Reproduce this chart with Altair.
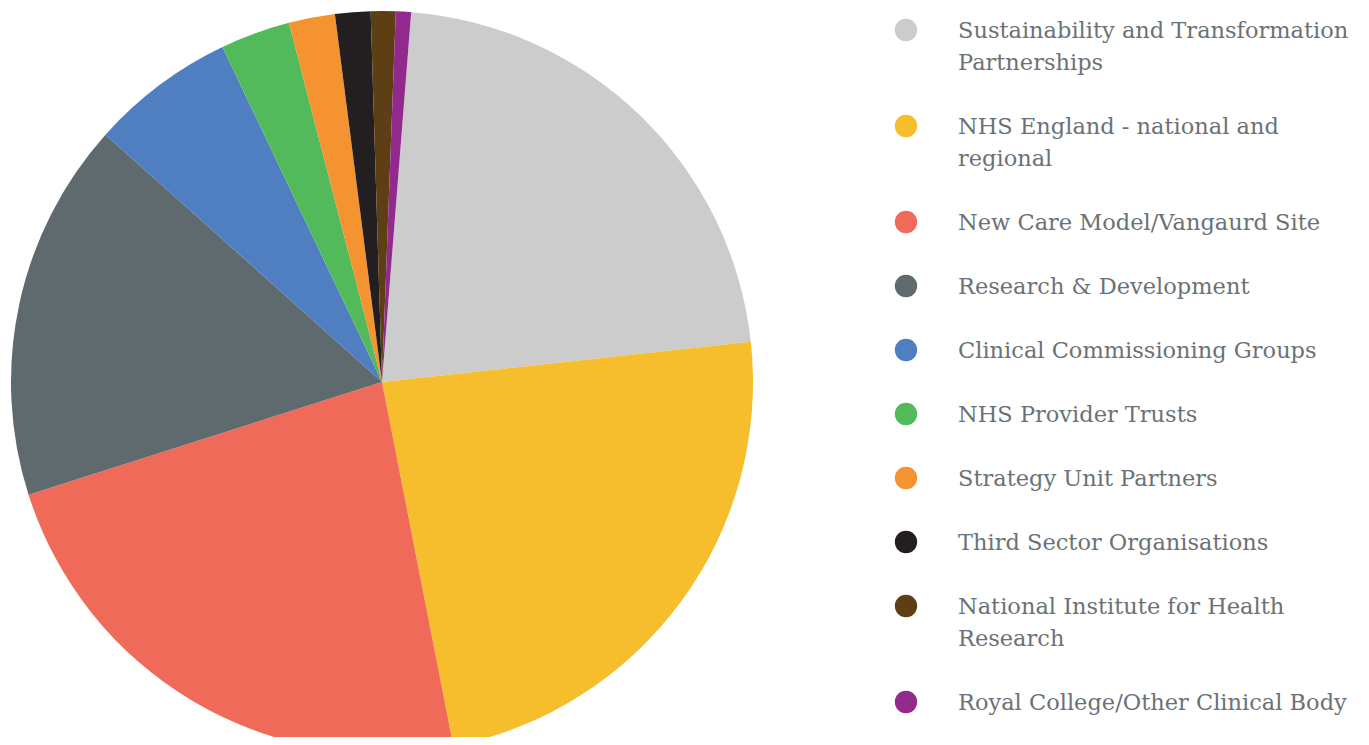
import altair as alt
import pandas as pd

categories = [
    "Sustainability and Transformation Partnerships",
    "NHS England - national and regional",
    "New Care Model/Vangaurd Site",
    "Research & Development",
    "Clinical Commissioning Groups",
    "NHS Provider Trusts",
    "Strategy Unit Partners",
    "Third Sector Organisations",
    "National Institute for Health Research",
    "Royal College/Other Clinical Body",
]
# share of the pie, percent
values = [22.02, 23.65, 23.17, 16.53, 6.31, 3.04, 2.01, 1.54, 1.08, 0.66]
colors = ["#CCCCCC", "#F6BD2C", "#F06A59", "#5F6A6E", "#4F7FC1",
          "#52BA5A", "#F4932F", "#231F20", "#5E3F15", "#922A8E"]
# legend text, wrapped as in the reference
legend_lines = [
    ["Sustainability and Transformation", "Partnerships"],
    ["NHS England - national and", "regional"],
    ["New Care Model/Vangaurd Site"],
    ["Research & Development"],
    ["Clinical Commissioning Groups"],
    ["NHS Provider Trusts"],
    ["Strategy Unit Partners"],
    ["Third Sector Organisations"],
    ["National Institute for Health", "Research"],
    ["Royal College/Other Clinical Body"],
]

pie_df = pd.DataFrame({"category": categories, "value": values,
                       "idx": list(range(len(categories)))})

# legend slot positions (in text-line units)
sym_rows, txt_rows = [], []
u = 0
for i, lines in enumerate(legend_lines):
    sym_rows.append({"category": categories[i], "u": u})
    for j, t in enumerate(lines):
        txt_rows.append({"text": t, "u": u + j})
    u += len(lines) + 1
sym_df = pd.DataFrame(sym_rows)
txt_df = pd.DataFrame(txt_rows)
u_max = sym_rows[-1]["u"]

color_scale = alt.Scale(domain=categories, range=colors)
PI = 3.141592653589793
start = 4.51 * PI / 180

pie = alt.Chart(pie_df).mark_arc(radius=371).encode(
    theta=alt.Theta("value:Q", stack=True,
                    scale=alt.Scale(range=[start, start + 2 * PI])),
    color=alt.Color("category:N", scale=color_scale, legend=None),
    order=alt.Order("idx:Q"),
    x=alt.value(374),
    y=alt.value(374),
)

yscale = alt.Scale(domain=[0, u_max], range=[22, 22 + 32 * u_max])

syms = alt.Chart(sym_df).mark_point(filled=True, shape="circle", size=500, opacity=1).encode(
    x=alt.value(898),
    y=alt.Y("u:Q", scale=yscale, axis=None),
    color=alt.Color("category:N", scale=color_scale, legend=None),
)

texts = alt.Chart(txt_df).mark_text(
    align="left", baseline="middle", font="DejaVu Serif", fontSize=22.5,
    color="#6B7276", dy=1,
).encode(
    x=alt.value(950),
    y=alt.Y("u:Q", scale=yscale, axis=None),
    text="text:N",
)

chart = alt.layer(pie, syms, texts).properties(
    width=1353, height=729, padding=0,
    autosize=alt.AutoSizeParams(type="none"),
).configure_view(stroke=None)

chart.save("out.html", embed_options={"renderer": "svg", "actions": False})
